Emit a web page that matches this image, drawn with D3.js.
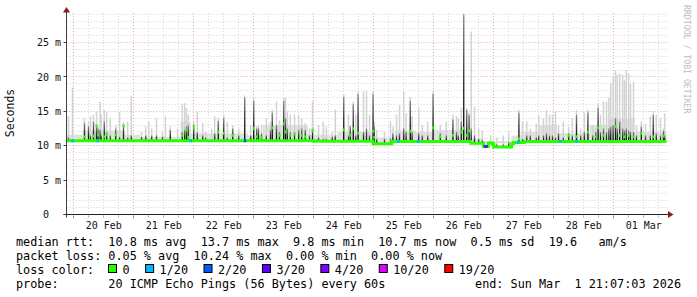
<!DOCTYPE html>
<html>
<head>
<meta charset="utf-8">
<script src="https://cdn.jsdelivr.net/npm/d3@7"></script>
<style>
  html, body { margin: 0; padding: 0; background: #fff; }
  svg text { font-family: "DejaVu Sans Mono", monospace; white-space: pre; }
</style>
</head>
<body>
<svg id="chart" width="697" height="297"></svg>
<script>
// times are days of Feb 2026 (29 = 01 Mar), rtt values in ms
const startDay = 19.88;
const endDay = 29.88;

// median rtt, held from each day until the next
const medianDays = [19.88, 24.0, 24.99, 25.3, 26.62, 26.83, 26.91, 26.98, 27.0, 27.3, 27.33, 27.51];
const medianMs   = [10.72, 10.65, 10.3, 10.62, 10.35, 9.9, 10.4, 10.2, 9.8, 10.3, 10.45, 10.62];

// low background smoke top, held until the next day
const bandDays = [19.88, 20.15, 20.85, 21.1, 21.78, 21.95, 22.9, 23.15, 23.9, 24.4, 25.0, 25.35, 25.7, 26.0, 26.6, 26.8, 27.3, 27.45, 27.75, 28.05, 28.6, 28.9, 29.35];
const bandMs   = [11.6, 12.2, 11.6, 11.3, 13.5, 11.8, 11.5, 13.0, 11.6, 12.0, 11.2, 12.2, 12.0, 12.3, 11.0, 10.7, 11.5, 12.0, 13.0, 11.8, 13.0, 14.0, 12.0];

// smoke spikes: outer (light) top, dense (dark) top, median of that step (0 = on the line)
const spikeDays = [19.913, 19.98, 20.18, 20.247, 20.28, 20.33, 20.38, 20.405, 20.44, 20.46, 20.51, 20.55, 20.61, 20.70, 20.765, 20.83, 20.9, 20.96,
  21.13, 21.2, 21.25, 21.3, 21.38, 21.48, 21.53, 21.61, 21.73, 21.81, 21.85, 21.88, 21.91, 22.0, 22.06, 22.15, 22.2, 22.3, 22.35, 22.41, 22.5, 22.56,
  22.65, 22.75, 22.85, 22.95, 23.0, 23.05, 23.08, 23.13, 23.21, 23.28, 23.31, 23.38, 23.43, 23.5, 23.53, 23.56, 23.61, 23.68, 23.75, 23.8, 23.86,
  23.93, 23.98, 24.08, 24.16, 24.21, 24.31, 24.36, 24.5, 24.58, 24.61, 24.66, 24.7, 24.74, 24.83, 24.88, 24.93, 24.99, 25.01, 25.05, 25.18, 25.28,
  25.32, 25.38, 25.43, 25.5, 25.54, 25.61, 25.64, 25.75, 25.81, 25.9, 25.99, 26.11, 26.21, 26.32, 26.38, 26.41, 26.46, 26.5, 26.55, 26.59, 26.625,
  26.68, 26.75, 26.81, 26.95, 27.05, 27.16, 27.25, 27.42, 27.48, 27.55, 27.61, 27.71, 27.75, 27.83, 27.88, 27.93, 27.98, 28.03, 28.08, 28.16, 28.25,
  28.31, 28.38, 28.45, 28.51, 28.57, 28.65, 28.7, 28.74, 28.78, 28.83, 28.88, 28.92, 28.95, 28.99, 29.03, 29.06, 29.1, 29.15, 29.18, 29.21, 29.25,
  29.28, 29.33, 29.38, 29.46, 29.53, 29.61, 29.66, 29.71, 29.78, 29.83, 29.85];
const spikeHigh = [14.3, 18.5, 14.0, 13.5, 14.3, 14.5, 14.9, 13.0, 16.4, 14.5, 15.2, 14.9, 14.0, 13.0, 14.9, 13.5, 13.5, 17.2,
  12.0, 12.8, 13.5, 12.5, 14.0, 12.0, 14.3, 12.8, 12.5, 16.0, 16.2, 15.5, 14.5, 13.5, 14.9, 13.3, 12.0, 12.5, 14.3, 14.0, 14.5, 13.5,
  13.0, 12.5, 17.3, 13.0, 16.9, 12.8, 13.0, 13.0, 14.0, 13.5, 15.2, 16.4, 13.7, 16.9, 17.0, 15.0, 14.5, 14.5, 14.5, 14.0, 13.3,
  12.5, 16.5, 13.0, 13.5, 12.8, 12.0, 15.2, 17.5, 14.5, 13.0, 16.4, 14.5, 17.9, 17.9, 17.9, 14.5, 17.9, 13.5, 12.3, 12.0, 13.5,
  12.8, 14.5, 15.9, 17.9, 14.7, 17.1, 14.3, 15.5, 13.0, 13.5, 17.9, 13.0, 13.5, 14.5, 14.3, 14.0, 15.5, 29.2, 15.5, 14.8, 26.6,
  15.7, 12.5, 12.2, 11.5, 11.2, 11.5, 12.0, 15.2, 13.5, 13.5, 12.5, 13.2, 14.5, 14.0, 15.2, 14.5, 14.5, 15.0, 13.0, 13.5, 12.8,
  14.0, 15.2, 12.5, 14.8, 15.2, 13.0, 12.5, 16.2, 14.5, 16.4, 16.4, 17.0, 19.1, 20.0, 21.0, 20.3, 20.5, 20.3, 19.5, 21.0, 20.5,
  19.0, 19.3, 13.0, 13.5, 13.2, 14.3, 15.0, 14.5, 14.0, 12.5, 14.7];
const spikeDense = [11.2, 11.0, 13.3, 12.8, 11.5, 13.5, 12.8, 12.5, 12.3, 11.5, 13.5, 12.0, 11.5, 12.5, 11.3, 13.0, 11.2, 11.5,
  11.3, 11.5, 11.0, 11.5, 11.5, 11.3, 11.0, 12.3, 11.0, 12.0, 12.3, 12.8, 13.0, 13.1, 12.0, 11.5, 11.2, 11.0, 11.8, 13.6, 14.0, 11.2,
  12.5, 11.5, 17.0, 11.5, 16.5, 12.5, 12.5, 11.8, 11.5, 12.3, 14.8, 13.0, 12.0, 16.5, 14.0, 12.5, 12.0, 11.8, 12.3, 12.5, 12.3,
  11.5, 12.5, 11.2, 11.0, 11.0, 11.3, 11.5, 17.1, 11.5, 12.8, 16.0, 11.5, 17.5, 12.0, 12.5, 11.5, 17.5, 12.8, 11.0, 11.0, 11.0,
  11.8, 11.5, 11.8, 12.5, 12.0, 16.5, 12.0, 11.8, 11.5, 11.5, 17.5, 11.8, 11.5, 13.8, 12.0, 11.5, 13.5, 29.0, 15.2, 14.5, 12.5,
  11.5, 11.0, 10.8, 10.5, 10.2, 10.2, 10.5, 14.8, 11.0, 11.5, 11.5, 11.2, 11.5, 11.5, 11.8, 11.5, 11.5, 11.2, 11.8, 11.2, 11.8,
  11.5, 14.5, 11.5, 12.0, 14.8, 11.5, 12.0, 15.5, 12.0, 12.5, 12.0, 12.5, 12.8, 13.0, 14.0, 12.5, 13.5, 12.5, 12.2, 12.5, 12.2,
  12.0, 12.0, 11.5, 12.8, 11.5, 11.5, 14.5, 11.8, 11.5, 12.2, 11.5];
const spikeMedian = [0, 0, 11.3, 0, 0, 11.4, 12.9, 11.6, 0, 0, 11.3, 11.6, 0, 11.6, 0, 12.9, 0, 0,
  0, 0, 0, 0, 0, 0, 0, 0, 0, 11.5, 0, 12.3, 11.2, 12.6, 0, 0, 0, 0, 0, 12.0, 11.8, 0,
  11.5, 0, 0, 0, 12.5, 11.3, 0, 11.2, 0, 0, 12.6, 0, 11.5, 13.2, 12.0, 0, 11.5, 11.8, 0, 11.5, 11.3,
  0, 12.2, 0, 0, 0, 0, 0, 12.3, 0, 11.5, 12.5, 0, 11.8, 0, 0, 0, 12.1, 11.2, 0, 0, 0,
  0, 0, 0, 0, 0, 12.1, 0, 0, 0, 0, 12.6, 11.3, 0, 11.5, 0, 0, 12.0, 12.5, 11.5, 12.2, 0,
  0, 0, 0, 0, 0, 0, 0, 11.0, 0, 0, 0, 0, 0, 0, 0, 0, 0, 0, 0, 0, 11.5,
  0, 11.3, 0, 0, 12.0, 0, 11.3, 12.6, 0, 11.5, 0, 0, 0, 0, 12.8, 0, 11.5, 0, 11.3, 0, 11.5,
  0, 11.3, 0, 11.8, 0, 0, 11.3, 0, 0, 11.4, 0];

// steps with packet loss (index into lossLabels)
const lossDays  = [19.98, 20.4, 21.95, 22.855, 25.41, 25.74, 26.85, 26.88, 27.41, 28.11, 28.38];
const lossLevel = [1, 1, 1, 2, 1, 1, 2, 3, 1, 1, 1];

const lossLabels = ["0", "1/20", "2/20", "3/20", "4/20", "10/20", "19/20"];
const lossColors = ["#26ff00", "#00b8ff", "#0059ff", "#5e00ff", "#7e00ff", "#dd00ff", "#ff0000"];

const yTicks = [0, 5, 10, 15, 20, 25];
const yMax = 29.29;

const legendLines = [
  "median rtt:  10.8 ms avg  13.7 ms max  9.8 ms min  10.7 ms now  0.5 ms sd  19.6   am/s",
  "packet loss: 0.05 % avg  10.24 % max  0.00 % min  0.00 % now"
];
const probeText = "probe:       20 ICMP Echo Pings (56 Bytes) every 60s";
const endText = "end: Sun Mar  1 21:07:03 2026";

const toDate = d => new Date(Date.UTC(2026, 1, 1) + (d - 1) * 864e5);

const svg = d3.select("#chart");
const plotLeft = 66.5, plotRight = 666.5, plotBottom = 214.5, plotTop = 13;

const x = d3.scaleUtc().domain([toDate(startDay), toDate(endDay)]).range([plotLeft, plotRight]);
const y = d3.scaleLinear().domain([0, yMax]).range([plotBottom, plotTop]);
const px = v => Math.floor(v) + 0.5;

// grid
const grid = svg.append("g");
d3.range(1, 30).forEach(v => {
  const major = v % 5 === 0;
  grid.append("line")
    .attr("x1", plotLeft).attr("x2", plotRight + 1)
    .attr("y1", px(y(v))).attr("y2", px(y(v)))
    .attr("stroke", major ? "#e6a9a9" : "#d6d6d6")
    .attr("stroke-dasharray", "1,2");
});
x.ticks(d3.utcHour.every(6)).forEach(t => {
  const major = t.getUTCHours() === 0;
  grid.append("line")
    .attr("x1", px(x(t))).attr("x2", px(x(t)))
    .attr("y1", plotTop).attr("y2", plotBottom)
    .attr("stroke", major ? "#e6a9a9" : "#d6d6d6")
    .attr("stroke-dasharray", "1,2");
  svg.append("line")
    .attr("x1", px(x(t))).attr("x2", px(x(t)))
    .attr("y1", plotBottom + 1).attr("y2", plotBottom + (major ? 4 : 3))
    .attr("stroke", major ? "#d08080" : "#b0b0b0");
});

const medianAt = d => medianMs[Math.max(0, d3.bisectRight(medianDays, d) - 1)];

// background smoke band
const bandPts = bandDays.map((d, i) => [d, bandMs[i]]).concat([[endDay, bandMs[bandMs.length - 1]]]);
svg.append("path")
  .datum(bandPts)
  .attr("fill", "#e0e0e0")
  .attr("d", d3.area()
    .curve(d3.curveStepAfter)
    .x(p => x(toDate(p[0])))
    .y0(p => y(medianAt(p[0])))
    .y1(p => y(p[1])));

// gradient for dense smoke
const defs = svg.append("defs");
const grad = defs.append("linearGradient").attr("id", "dense")
  .attr("x1", 0).attr("y1", 1).attr("x2", 0).attr("y2", 0);
grad.append("stop").attr("offset", "0%").attr("stop-color", "#000");
grad.append("stop").attr("offset", "45%").attr("stop-color", "#2e2e2e");
grad.append("stop").attr("offset", "100%").attr("stop-color", "#8a8a8a");

const spikes = spikeDays.map((d, i) => ({
  d, high: spikeHigh[i], dense: spikeDense[i], med: spikeMedian[i], base: medianAt(d)
}));

svg.append("g").selectAll("rect")
  .data(spikes)
  .join("rect")
  .attr("x", s => x(toDate(s.d)) - 0.75)
  .attr("width", 1.5)
  .attr("y", s => y(s.high))
  .attr("height", s => y(s.base) - y(s.high))
  .attr("fill", "#d2d2d2");

svg.append("g").selectAll("rect")
  .data(spikes.filter(s => s.dense > s.base + 0.3))
  .join("rect")
  .attr("x", s => x(toDate(s.d)) - 0.65)
  .attr("width", 1.3)
  .attr("y", s => y(s.dense))
  .attr("height", s => y(s.base) - y(s.dense))
  .attr("fill", "url(#dense)");

// median line
const medPts = medianDays.map((d, i) => [d, medianMs[i]]).concat([[endDay, medianMs[medianMs.length - 1]]]);
svg.append("path")
  .datum(medPts)
  .attr("fill", "none")
  .attr("stroke", lossColors[0])
  .attr("stroke-width", 3)
  .attr("d", d3.line()
    .curve(d3.curveStepAfter)
    .x(p => x(toDate(p[0])))
    .y(p => y(p[1])));

svg.append("g").selectAll("rect")
  .data(spikes.filter(s => s.med > 0))
  .join("rect")
  .attr("x", s => x(toDate(s.d)) - 1)
  .attr("width", 2)
  .attr("y", s => y(s.med) - 1.5)
  .attr("height", 3)
  .attr("fill", lossColors[0]);

svg.append("g").selectAll("rect")
  .data(lossDays.map((d, i) => ({ d, level: lossLevel[i] })))
  .join("rect")
  .attr("x", l => x(toDate(l.d)) - 1.2)
  .attr("width", 2.4)
  .attr("y", l => y(medianAt(l.d)) - 1.5)
  .attr("height", 3)
  .attr("fill", l => lossColors[l.level]);

// axes
svg.append("line").attr("x1", plotLeft).attr("x2", plotLeft).attr("y1", plotBottom + 3).attr("y2", 11)
  .attr("stroke", "#404040");
svg.append("line").attr("x1", plotLeft - 3).attr("x2", 669).attr("y1", plotBottom).attr("y2", plotBottom)
  .attr("stroke", "#202020");
svg.append("path").attr("d", `M${plotLeft - 3.5},12.5 L${plotLeft + 3.5},12.5 L${plotLeft},7 Z`).attr("fill", "#8b1a1a");
svg.append("path").attr("d", `M668,${plotBottom - 3.5} L668,${plotBottom + 3.5} L673.5,${plotBottom} Z`).attr("fill", "#8b1a1a");

yTicks.forEach(v => {
  svg.append("line").attr("x1", plotLeft - 3).attr("x2", plotLeft).attr("y1", px(y(v))).attr("y2", px(y(v)))
    .attr("stroke", "#404040");
  svg.append("text")
    .attr("x", 61).attr("y", y(v) + 3.6)
    .attr("text-anchor", "end")
    .attr("font-size", 10)
    .attr("fill", "#111")
    .text(v === 0 ? "0  " : `${v} m`);
});

d3.utcDay.range(toDate(startDay), toDate(endDay)).forEach(t => {
  const noon = d3.utcHour.offset(t, 12);
  if (noon > toDate(endDay)) return;
  svg.append("text")
    .attr("x", x(noon)).attr("y", 228.5)
    .attr("text-anchor", "middle")
    .attr("font-size", 10)
    .attr("fill", "#111")
    .text(d3.utcFormat("%d %b")(noon));
});

svg.append("text")
  .attr("transform", "translate(14,113) rotate(-90)")
  .attr("text-anchor", "middle")
  .attr("font-size", 11.5)
  .attr("fill", "#111")
  .text("Seconds");

svg.append("text")
  .attr("transform", "translate(684,5) rotate(90)")
  .attr("font-size", 8.2)
  .attr("fill", "#bdbdbd")
  .text("RRDTOOL / TOBI OETIKER");

// legend
const lf = 11.8, cw = lf * 0.602;
legendLines.forEach((s, i) => {
  svg.append("text").attr("x", 16).attr("y", 245.5 + i * 14)
    .attr("font-size", lf).attr("fill", "#000").text(s);
});
svg.append("text").attr("x", 16).attr("y", 273.5).attr("font-size", lf).attr("fill", "#000").text("loss color:");
let pos = 108;
lossLabels.forEach((lab, i) => {
  svg.append("rect").attr("x", pos + 0.5).attr("y", 264.5).attr("width", 8).attr("height", 8)
    .attr("fill", lossColors[i]).attr("stroke", "#000");
  svg.append("text").attr("x", pos + 14.5).attr("y", 273.5).attr("font-size", lf).attr("fill", "#000").text(lab);
  pos += 14.5 + lab.length * cw + 15.5;
});
svg.append("text").attr("x", 16).attr("y", 287.5).attr("font-size", lf).attr("fill", "#000").text(probeText);
svg.append("text").attr("x", 681).attr("y", 287.5).attr("text-anchor", "end")
  .attr("font-size", lf).attr("fill", "#000").text(endText);
</script>
</body>
</html>
